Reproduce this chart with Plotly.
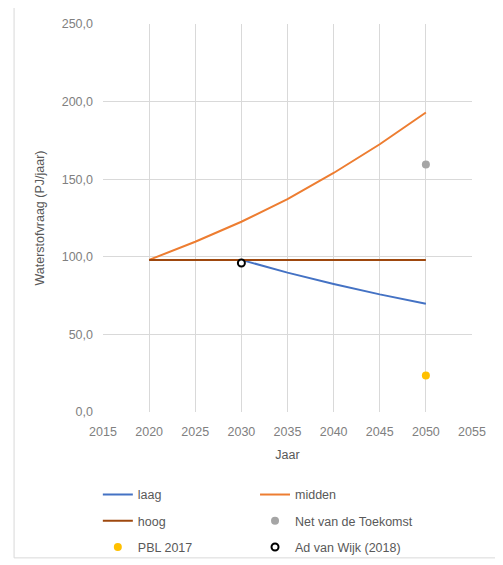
import plotly.graph_objects as go

years = [2020, 2025, 2030, 2035, 2040, 2045, 2050]
laag = [98.0, 98.0, 98.0, 89.8, 82.5, 75.8, 69.8]
midden = [98.0, 109.7, 122.6, 137.2, 154.0, 172.5, 193.0]
hoog = [98.0, 98.0, 98.0, 98.0, 98.0, 98.0, 98.0]
net_x = [2050]
net_y = [159.5]
pbl_x = [2050]
pbl_y = [23.5]
wijk_x = [2030]
wijk_y = [96.0]

FONT = "Liberation Sans"
GRAY = "#808080"
DARK = "#595959"
FS = 12.5

fig = go.Figure()
fig.add_trace(go.Scatter(x=years, y=laag, mode="lines", name="laag", legend="legend",
                         legendgroup="a", line=dict(color="#4472C4", width=2)))
fig.add_trace(go.Scatter(x=years, y=midden, mode="lines", name="midden", legend="legend2",
                         legendgroup="b", line=dict(color="#ED7D31", width=2)))
fig.add_trace(go.Scatter(x=years, y=hoog, mode="lines", name="hoog", legend="legend",
                         legendgroup="c", line=dict(color="#9E480E", width=2)))
fig.add_trace(go.Scatter(x=net_x, y=net_y, mode="markers", name="Net van de Toekomst",
                         legend="legend2", legendgroup="d",
                         marker=dict(color="#A5A5A5", size=8)))
fig.add_trace(go.Scatter(x=pbl_x, y=pbl_y, mode="markers", name="PBL 2017",
                         legend="legend", legendgroup="e",
                         marker=dict(color="#FFC000", size=8)))
fig.add_trace(go.Scatter(x=wijk_x, y=wijk_y, mode="markers", name="Ad van Wijk (2018)",
                         legend="legend2", legendgroup="f",
                         marker=dict(color="white", size=7, line=dict(color="black", width=2))))

leg_common = dict(orientation="v", yanchor="top", xanchor="left", tracegroupgap=7,
                  font=dict(family=FONT, size=FS, color=DARK), itemwidth=30,
                  bgcolor="rgba(0,0,0,0)")

fig.update_layout(
    width=503, height=565,
    margin=dict(l=95, r=39, t=16, b=161, autoexpand=False),
    paper_bgcolor="white", plot_bgcolor="white",
    separators=",.",
    font=dict(family=FONT, size=FS, color=GRAY),
    showlegend=True,
    legend=dict(x=-0.014, y=-0.175, **leg_common),
    legend2=dict(x=0.412, y=-0.175, **leg_common),
    xaxis=dict(range=[2015, 2055], dtick=5, tick0=2015, showgrid=True,
               gridcolor="#D9D9D9", gridwidth=1, zeroline=False,
               showline=False, ticks="", ticklabelstandoff=10,
               title=dict(text="Jaar", font=dict(size=FS, color=DARK), standoff=12),
               tickfont=dict(size=FS, color=GRAY)),
    yaxis=dict(range=[0, 250], dtick=50, tickformat=".1f", showgrid=True,
               gridcolor="#D9D9D9", gridwidth=1, zeroline=False,
               showline=False, ticks="", ticklabelstandoff=9,
               title=dict(text="Waterstofvraag (PJ/jaar)", font=dict(size=FS, color=DARK), standoff=14),
               tickfont=dict(size=FS, color=GRAY)),
)

# outer chart border
fig.add_shape(type="rect", xref="paper", yref="paper",
              x0=-0.241, x1=1.068, y0=-0.376, y1=1.046,
              line=dict(color="#D9D9D9", width=1), fillcolor="rgba(0,0,0,0)", layer="below")

fig.write_html("out.html")
